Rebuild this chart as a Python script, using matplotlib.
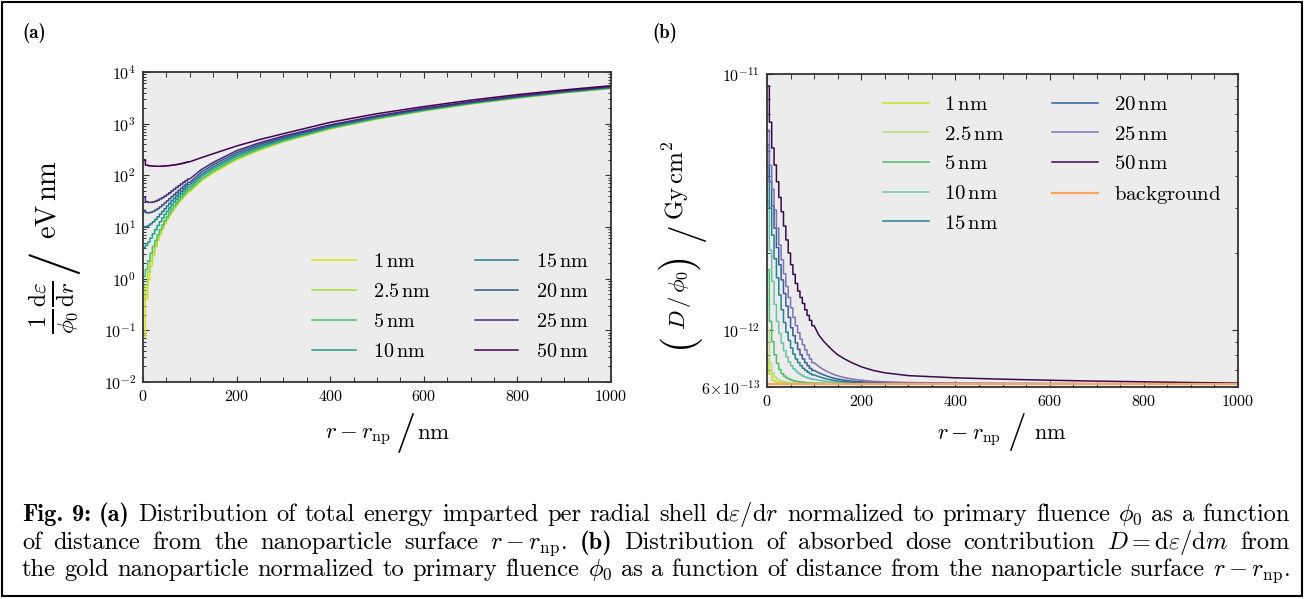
import numpy as np
import matplotlib
matplotlib.use("Agg")
import matplotlib.pyplot as plt
from matplotlib.ticker import MultipleLocator, FixedLocator, FuncFormatter, NullFormatter, LogLocator
from matplotlib.patches import Rectangle

plt.rcParams.update({
    "font.family": "cmr10",
    "mathtext.fontset": "cm",
    "axes.formatter.use_mathtext": True,
    "axes.unicode_minus": False,
})

# nanoparticle radii (legend labels)
radii = ["1", "2.5", "5", "10", "15", "20", "25", "50"]

# 5 nm bins close to the surface, then sampled points further out
bin_edges = [0, 5, 10, 15, 20, 25, 30, 35, 40, 45, 50, 55, 60, 65, 70, 75, 80, 85, 90, 95, 100]
far_r_a = [125, 150, 200, 250, 300, 400, 500, 600, 700, 800, 900, 1000]
far_r_b = [110, 120, 130, 140, 150, 165, 180, 200, 225, 250, 300, 400, 500, 600, 700, 800, 900, 1000]

# (a) energy imparted per radial shell, eV nm
e1_near = [0.076, 0.40, 0.95, 1.75, 2.8, 4.1, 5.6, 7.4, 9.4, 11.7, 14.2, 17.0, 20.0, 23.3, 26.8, 30.5, 34.5, 38.7, 43.2, 48.0]
e2p5_near = [0.39, 0.75, 1.35, 2.2, 3.3, 4.6, 6.2, 8.0, 10.1, 12.5, 15.1, 18.0, 21.1, 24.5, 28.2, 32.1, 36.3, 40.7, 45.4, 50.3]
e5_near = [1.1, 1.5, 2.2, 3.1, 4.2, 5.5, 7.1, 8.9, 11.0, 13.4, 16.0, 18.9, 22.1, 25.6, 29.3, 33.3, 37.6, 42.6, 47.8, 53.3]
e10_near = [4.0, 4.4, 5.1, 6.1, 7.4, 8.9, 10.7, 12.7, 15.0, 17.5, 20.3, 23.4, 26.8, 30.5, 34.5, 38.8, 43.4, 48.3, 53.5, 59.0]
e15_near = [10.0, 10.2, 10.7, 11.5, 12.6, 14.0, 15.7, 17.7, 20.0, 22.6, 25.5, 28.7, 32.2, 36.0, 40.1, 44.6, 49.4, 54.6, 60.1, 66.0]
e20_near = [21.0, 19.0, 18.8, 19.2, 20.0, 21.2, 22.7, 24.6, 26.8, 29.3, 32.1, 35.3, 38.8, 42.6, 46.8, 51.3, 56.2, 61.5, 67.1, 73.2]
e25_near = [38.0, 31.0, 30.0, 30.0, 30.5, 31.5, 33.0, 35.0, 37.0, 39.5, 42.5, 46.0, 50.0, 54.0, 58.5, 63.0, 68.0, 73.5, 79.0, 85.0]
e50_near = [200, 158, 154, 152, 151, 150, 150, 150, 151, 152, 153, 155, 157, 159, 162, 165, 169, 173, 178, 183]

e1_far = [78, 112, 200, 310, 445, 790, 1230, 1760, 2400, 3120, 3950, 4800]
e2p5_far = [81, 116, 206, 317, 453, 800, 1240, 1775, 2415, 3140, 3975, 4830]
e5_far = [85, 122, 215, 329, 466, 817, 1262, 1800, 2445, 3175, 4010, 4870]
e10_far = [95, 134, 233, 351, 490, 848, 1300, 1845, 2495, 3240, 4080, 4955]
e15_far = [104, 146, 252, 373, 515, 877, 1335, 1890, 2545, 3300, 4150, 5035]
e20_far = [116, 161, 274, 400, 543, 912, 1375, 1935, 2600, 3365, 4220, 5125]
e25_far = [130, 178, 300, 430, 575, 950, 1420, 1990, 2660, 3440, 4300, 5220]
e50_far = [220, 262, 370, 495, 640, 1060, 1560, 2140, 2850, 3650, 4500, 5430]

# (b) dose per primary fluence, in units of 1e-12 Gy cm^2
d1_near = [0.77, 0.67, 0.64, 0.63, 0.625, 0.622, 0.620, 0.619, 0.618, 0.618, 0.617, 0.617, 0.617, 0.616, 0.616, 0.616, 0.616, 0.616, 0.616, 0.616]
d2p5_near = [1.00, 0.74, 0.68, 0.655, 0.642, 0.635, 0.630, 0.627, 0.625, 0.623, 0.622, 0.621, 0.620, 0.620, 0.619, 0.619, 0.618, 0.618, 0.618, 0.618]
d5_near = [1.72, 1.08, 0.90, 0.80, 0.74, 0.70, 0.675, 0.66, 0.65, 0.643, 0.637, 0.633, 0.630, 0.628, 0.626, 0.624, 0.623, 0.622, 0.621, 0.620]
d10_near = [3.2, 2.05, 1.55, 1.26, 1.08, 0.97, 0.89, 0.83, 0.785, 0.75, 0.725, 0.705, 0.69, 0.678, 0.668, 0.66, 0.654, 0.649, 0.645, 0.641]
d15_near = [4.4, 3.0, 2.35, 1.9, 1.6, 1.37, 1.2, 1.07, 0.98, 0.91, 0.85, 0.805, 0.77, 0.745, 0.725, 0.708, 0.695, 0.684, 0.675, 0.667]
d20_near = [5.3, 3.8, 3.05, 2.5, 2.1, 1.8, 1.57, 1.39, 1.24, 1.12, 1.02, 0.95, 0.89, 0.84, 0.80, 0.77, 0.745, 0.725, 0.708, 0.695]
d25_near = [6.05, 4.4, 3.55, 2.95, 2.5, 2.15, 1.88, 1.66, 1.48, 1.34, 1.22, 1.12, 1.04, 0.975, 0.92, 0.875, 0.835, 0.80, 0.77, 0.745]
d50_near = [9.0, 6.5, 5.15, 4.42, 3.8, 3.3, 2.9, 2.55, 2.25, 2.0, 1.8, 1.65, 1.52, 1.42, 1.34, 1.27, 1.2, 1.14, 1.09, 1.04]

d1_far = [0.616, 0.616, 0.616, 0.616, 0.616, 0.616, 0.616, 0.616, 0.616, 0.616, 0.616, 0.616, 0.616, 0.616, 0.616, 0.616, 0.616, 0.616]
d2p5_far = [0.618, 0.618, 0.617, 0.617, 0.617, 0.617, 0.617, 0.616, 0.616, 0.616, 0.616, 0.616, 0.616, 0.616, 0.616, 0.616, 0.616, 0.616]
d5_far = [0.619, 0.619, 0.618, 0.618, 0.618, 0.617, 0.617, 0.617, 0.617, 0.616, 0.616, 0.616, 0.616, 0.616, 0.616, 0.616, 0.616, 0.616]
d10_far = [0.636, 0.632, 0.628, 0.626, 0.624, 0.622, 0.620, 0.619, 0.618, 0.617, 0.617, 0.616, 0.616, 0.616, 0.616, 0.616, 0.616, 0.616]
d15_far = [0.657, 0.648, 0.641, 0.636, 0.632, 0.627, 0.624, 0.621, 0.619, 0.618, 0.617, 0.616, 0.616, 0.616, 0.616, 0.616, 0.616, 0.616]
d20_far = [0.680, 0.668, 0.657, 0.649, 0.643, 0.636, 0.631, 0.627, 0.623, 0.621, 0.619, 0.617, 0.617, 0.616, 0.616, 0.616, 0.616, 0.616]
d25_far = [0.720, 0.700, 0.685, 0.672, 0.662, 0.651, 0.643, 0.636, 0.630, 0.627, 0.623, 0.620, 0.618, 0.618, 0.617, 0.617, 0.617, 0.616]
d50_far = [0.955, 0.905, 0.865, 0.830, 0.800, 0.770, 0.745, 0.718, 0.695, 0.680, 0.663, 0.650, 0.642, 0.636, 0.631, 0.627, 0.623, 0.620]

bg_r = [0, 1000]
bg_dose = [0.615, 0.615]

energy_near = [e1_near, e2p5_near, e5_near, e10_near, e15_near, e20_near, e25_near, e50_near]
energy_far = [e1_far, e2p5_far, e5_far, e10_far, e15_far, e20_far, e25_far, e50_far]
dose_near = [d1_near, d2p5_near, d5_near, d10_near, d15_near, d20_near, d25_near, d50_near]
dose_far = [d1_far, d2p5_far, d5_far, d10_far, d15_far, d20_far, d25_far, d50_far]

colores_a = ["#d5e21a", "#a8db34", "#4ac16d", "#1fa187", "#2a788e", "#3b528b", "#472c7a", "#440154"]
colores_b = ["#c8de1f", "#b5de7a", "#4fbe6e", "#68c3a7", "#23838e", "#355f9b", "#7f72b5", "#3a0a4f"]
color_bg = "#f9a65a"

W, H = 1305, 599
GRIS = "#333333"


def camino(edges, near, fx, fy):
    xs = np.repeat(edges, 2)[1:-1]
    ys = np.repeat(near, 2)
    return np.concatenate([xs, fx]), np.concatenate([ys, fy])


def ejes(x0, y0, x1, y1):
    # pixel box -> figure fraction
    return [x0 / W, 1 - y1 / H, (x1 - x0) / W, (y1 - y0) / H]


def texto(x, y, s, **kw):
    # text placed in pixel coords of the reference
    kw.setdefault("ha", "center")
    kw.setdefault("va", "center")
    return fig.text(x / W, 1 - y / H, s, **kw)


def estilo(ax):
    ax.set_facecolor("#ececec")
    for s in ax.spines.values():
        s.set_color(GRIS)
        s.set_linewidth(1.3)
    ax.tick_params(which="both", direction="in", top=True, right=True, color=GRIS, labelsize=11.5)
    ax.tick_params(which="major", length=4.5, width=0.8, pad=5)
    ax.tick_params(which="minor", length=2.5, width=0.7)
    ax.tick_params(axis="x", which="minor", length=3.5)
    ax.xaxis.set_major_locator(MultipleLocator(200))
    ax.xaxis.set_minor_locator(MultipleLocator(50))
    ax.set_xlim(0, 1000)


fig = plt.figure(figsize=(W / 100, H / 100), dpi=100)

# ---------- (a)
ax1 = fig.add_axes(ejes(143, 72, 611, 382))
estilo(ax1)
ax1.set_yscale("log")
ax1.set_ylim(1e-2, 1e4)
ax1.yaxis.set_major_locator(LogLocator(base=10, numticks=10))
ax1.yaxis.set_minor_locator(LogLocator(base=10, subs=np.arange(2, 10), numticks=20))
ax1.yaxis.set_major_formatter(FuncFormatter(lambda v, p: r"$10^{%d}$" % round(np.log10(v))))
ax1.yaxis.set_minor_formatter(NullFormatter())
for r, near, far, c in zip(radii, energy_near, energy_far, colores_a):
    xs, ys = camino(bin_edges, near, far_r_a, far)
    ax1.plot(xs, ys, color=c, lw=1.1, label=r"$%s\,\mathrm{nm}$" % r)
ax1.legend(loc="lower left", bbox_to_anchor=(0.323, 0.008), ncol=2, frameon=False, fontsize=14.5,
           handlelength=2.15, handletextpad=0.85, columnspacing=2.2, labelspacing=0.6, borderpad=0.4)

# axis labels of (a), built from pieces so the slash can be large
texto(358, 439, r"$r - r_{\mathrm{np}}$", fontsize=16.5, va="baseline")
texto(406, 433, "/", fontsize=29)
texto(434, 439, r"$\mathrm{nm}$", fontsize=16.5, va="baseline")
texto(54, 307, r"$\frac{1}{\phi_0}\frac{\mathrm{d}\varepsilon}{\mathrm{d}r}$", fontsize=24, rotation=90)
texto(52, 261, "/", fontsize=37, rotation=90)
texto(48, 199, r"$\mathrm{eV\,nm}$", fontsize=20.5, rotation=90)

# ---------- (b)
ax2 = fig.add_axes(ejes(767, 74.3, 1238, 386.7))
estilo(ax2)
ax2.set_yscale("log")
ax2.set_ylim(6.0e-13, 1e-11)
ax2.yaxis.set_major_locator(FixedLocator([6e-13, 1e-12, 1e-11]))
ax2.yaxis.set_major_formatter(FuncFormatter(
    lambda v, p: {0: r"$6\!\times\!10^{-13}$", 1: r"$10^{-12}$", 2: r"$10^{-11}$"}[p]))
ax2.yaxis.set_minor_locator(FixedLocator([7e-13, 8e-13, 9e-13] + [k * 1e-12 for k in range(2, 10)]))
ax2.yaxis.set_minor_formatter(NullFormatter())
for r, near, far, c in zip(radii, dose_near, dose_far, colores_b):
    xs, ys = camino(bin_edges, near, far_r_b, far)
    ax2.plot(xs, ys * 1e-12, color=c, lw=1.1, label=r"$%s\,\mathrm{nm}$" % r)
ax2.plot(bg_r, np.array(bg_dose) * 1e-12, color=color_bg, lw=1.6, label=r"$\mathrm{background}$")
ax2.legend(loc="upper left", bbox_to_anchor=(0.206, 0.992), ncol=2, frameon=False, fontsize=15,
           handlelength=2.2, handletextpad=0.75, columnspacing=2.3, labelspacing=0.53, borderpad=0.4)

texto(969, 439, r"$r - r_{\mathrm{np}}$", fontsize=16, va="baseline")
texto(1017, 432, "/", fontsize=27)
texto(1050, 439, r"$\mathrm{nm}$", fontsize=16, va="baseline")
texto(678, 340, "(", fontsize=30, rotation=90)
texto(680, 300, r"$D\,/\,\phi_0$", fontsize=16.5, rotation=90)
texto(678, 261, ")", fontsize=30, rotation=90)
texto(686, 232, "/", fontsize=27, rotation=90)
texto(676, 180, r"$\mathrm{Gy\,cm}^2$", fontsize=18, rotation=90)

# panel letters
texto(22, 33, "(a)", fontfamily="cmb10", fontsize=13.5, ha="left")
texto(652, 33, "(b)", fontfamily="cmb10", fontsize=13.5, ha="left")

# caption, justified word by word
lineas = [
    ([("Fig.", 1), ("9:", 1), ("(a)", 1), ("Distribution", 0), ("of", 0), ("total", 0), ("energy", 0),
      ("imparted", 0), ("per", 0), ("radial", 0), ("shell", 0), (r"$\mathrm{d}\varepsilon/\mathrm{d}r$", 0),
      ("normalized", 0), ("to", 0), ("primary", 0), ("fluence", 0), (r"$\phi_0$", 0), ("as", 0), ("a", 0),
      ("function", 0)], 521),
    ([("of", 0), ("distance", 0), ("from", 0), ("the", 0), ("nanoparticle", 0), ("surface", 0),
      (r"$r-r_{\mathrm{np}}$.", 0), ("(b)", 1), ("Distribution", 0), ("of", 0), ("absorbed", 0), ("dose", 0),
      ("contribution", 0), (r"$D=\mathrm{d}\varepsilon/\mathrm{d}m$", 0), ("from", 0)], 549),
    ([("the", 0), ("gold", 0), ("nanoparticle", 0), ("normalized", 0), ("to", 0), ("primary", 0),
      ("fluence", 0), (r"$\phi_0$", 0), ("as", 0), ("a", 0), ("function", 0), ("of", 0), ("distance", 0),
      ("from", 0), ("the", 0), ("nanoparticle", 0), ("surface", 0), (r"$r-r_{\mathrm{np}}$.", 0)], 576),
]
renderer = fig.canvas.get_renderer()
X0, X1 = 22, 1290
fs0 = 12.0
# font size such that the lines fit with ordinary word spaces
escalas = []
for palabras, base in lineas:
    tmp = [fig.text(0, 0, w, fontsize=fs0, fontfamily="cmb10" if b else "cmr10") for w, b in palabras]
    ancho = sum(t.get_window_extent(renderer).width for t in tmp)
    ancho += (len(tmp) - 1) * 0.333 * fs0 * 100 / 72
    escalas.append((X1 - X0) / ancho)
    for t in tmp:
        t.remove()
fs = fs0 * min(escalas)

for palabras, base in lineas:
    textos = [texto(0, base, w, fontsize=fs, va="baseline", ha="left",
                    fontfamily="cmb10" if b else "cmr10") for w, b in palabras]
    anchos = [t.get_window_extent(renderer).width for t in textos]
    hueco = (X1 - X0 - sum(anchos)) / (len(textos) - 1)
    x = X0
    for t, a in zip(textos, anchos):
        t.set_x(x / W)
        x += a + hueco

fig.patches.append(Rectangle((2 / W, 3 / H), 1300 / W, 594 / H, transform=fig.transFigure,
                             fill=False, edgecolor="black", lw=1.5))

fig.savefig("out.png", dpi=100)
